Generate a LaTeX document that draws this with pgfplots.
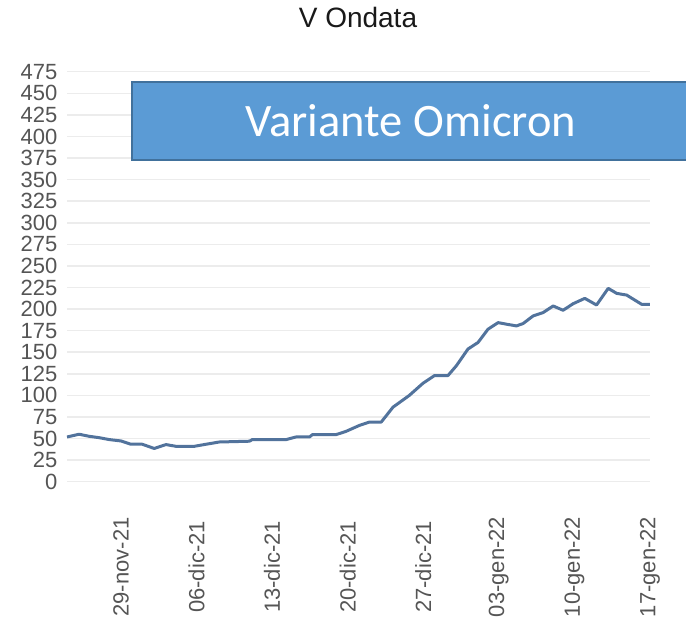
\documentclass[border=0pt]{standalone}
\usepackage{fontspec}
\setmainfont{Liberation Sans}
\newfontfamily\carlito{Carlito}
\usepackage{pgfplots}
\pgfplotsset{compat=1.18}
\definecolor{linecol}{RGB}{82,115,156}
\definecolor{gridcol}{RGB}{236,236,236}
\definecolor{boxfill}{RGB}{91,155,213}
\definecolor{boxdraw}{RGB}{65,113,156}
\definecolor{tickcol}{RGB}{85,85,85}
\begin{document}
\begin{tikzpicture}
\useasboundingbox (-67bp,-145.3bp) rectangle (619bp,481.7bp);
\begin{axis}[
  at={(0,0)}, anchor=south west,
  scale only axis, width=583bp, height=410bp,
  xmin=-5, xmax=49, ymin=0, ymax=475,
  axis line style={draw=none},
  major tick length=0pt, tick style={draw=none},
  ytick={0,25,...,475},
  xtick={0,7,...,49},
  xticklabels={29-nov-21,06-dic-21,13-dic-21,20-dic-21,27-dic-21,03-gen-22,10-gen-22,17-gen-22},
  ymajorgrids, grid style={gridcol, line width=1.5bp},
  /pgf/number format/assume math mode=true,
  yticklabel style={font=\fontsize{22bp}{22bp}\selectfont, text=tickcol, inner sep=0pt, anchor=east, xshift=-9.5bp},
  xticklabel style={font=\fontsize{22bp}{22bp}\selectfont, text=tickcol, inner sep=0pt, yshift=-85.3bp, rotate=90, anchor=center},
  title={V Ondata},
  title style={at={(0.4991,1.0937)}, anchor=base, inner sep=0pt, font=\fontsize{28bp}{30bp}\selectfont, text=black!90},
]
\addplot[linecol, line width=3bp, line join=round] coordinates {
(-5,51.8) (-3.88,55) (-2.95,52.6) (-2.02,51) (-1.09,48.8) (0,47.2)
(0.92,43.4) (1.97,43.4) (3.08,38.5) (4.17,43) (5.09,41) (6.79,41)
(7.88,43.4) (9.11,46) (11.89,46.9) (12.17,48.8) (15.3,48.8) (16.2,51.8)
(17.46,51.8) (17.74,54.6) (19.94,54.6) (20.86,58.4) (22.1,65.3) (23.0,69)
(24.1,69) (25.2,86.4) (26.7,99.9) (27.97,114) (29.05,123) (30.29,123)
(31.07,134.4) (32.14,153.7) (33.07,161.3) (34.0,176.7) (34.93,184.3)
(35.7,182.5) (36.63,180.5) (37.24,183.2) (38.17,192) (39.1,195.9)
(40.03,203.6) (40.95,198.6) (41.88,206.2) (42.96,212.4) (44.05,204.7)
(45.13,224) (45.91,218.2) (46.84,216.2) (48.23,205.5) (49,205.5)
};
\end{axis}
\draw[fill=boxfill, draw=boxdraw, line width=1.5bp] (65bp,321.7bp) rectangle (650bp,399.7bp);
\node[anchor=base, text=white, font=\carlito\fontsize{46.5bp}{50bp}\selectfont, inner sep=0pt] at (344bp,345bp) {Variante Omicron};
\end{tikzpicture}
\end{document}
